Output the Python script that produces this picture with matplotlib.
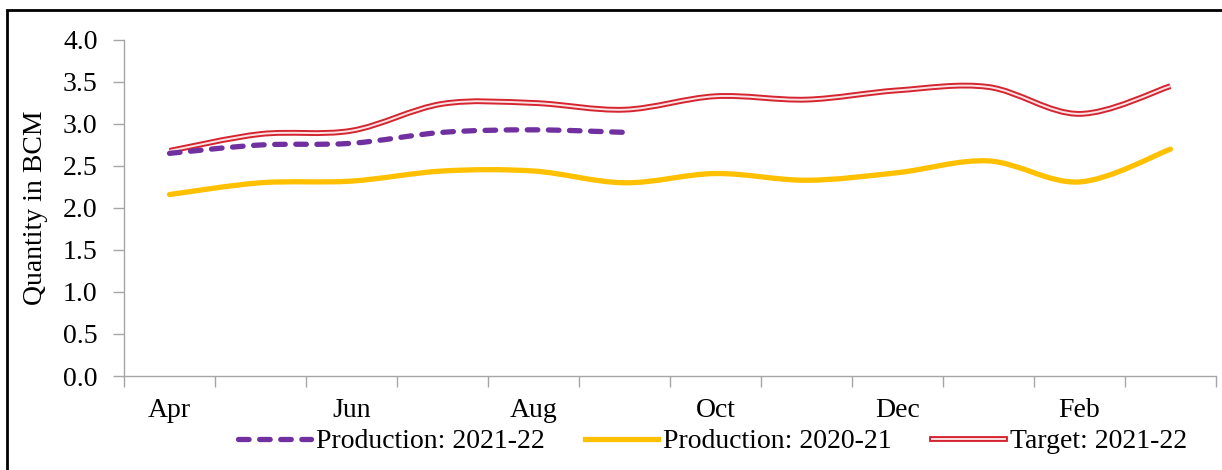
import numpy as np
import matplotlib.pyplot as plt
from matplotlib.path import Path
from matplotlib.patches import PathPatch, Rectangle
from matplotlib.lines import Line2D
import matplotlib.patheffects as pe

plt.rcParams['font.family'] = ['Liberation Serif', 'DejaVu Serif']

months = ['Apr', 'May', 'Jun', 'Jul', 'Aug', 'Sep', 'Oct', 'Nov', 'Dec', 'Jan', 'Feb', 'Mar']
prod_2122 = [2.65, 2.75, 2.77, 2.90, 2.93, 2.90]
prod_2021 = [2.16, 2.30, 2.32, 2.44, 2.44, 2.30, 2.41, 2.33, 2.42, 2.56, 2.31, 2.70]
target_2122 = [2.68, 2.88, 2.92, 3.24, 3.25, 3.17, 3.33, 3.29, 3.40, 3.44, 3.12, 3.45]


def smooth_path(ys):
    # Excel-style smoothed line: Catmull-Rom segments as cubic Beziers
    pts = np.column_stack([np.arange(len(ys)), ys]).astype(float)
    verts = [pts[0]]
    codes = [Path.MOVETO]
    n = len(pts)
    for i in range(n - 1):
        p0 = pts[max(i - 1, 0)]
        p1 = pts[i]
        p2 = pts[i + 1]
        p3 = pts[min(i + 2, n - 1)]
        c1 = p1 + (p2 - p0) / 6
        c2 = p2 - (p3 - p1) / 6
        verts += [c1, c2, p2]
        codes += [Path.CURVE4] * 3
    return Path(verts, codes)


fig = plt.figure(figsize=(12.22, 4.70), dpi=100)
ax = fig.add_axes([0.1015, 0.2, 0.8935, 0.715])

gold = '#FFC000'
purple = '#7030A0'
red = '#D42530'
pink = '#FBE3E4'
dash = (0, (2.0, 2.0))

ax.add_patch(PathPatch(smooth_path(prod_2021), fill=False, edgecolor=gold, lw=3.8, capstyle='round', zorder=2))
ax.add_patch(PathPatch(smooth_path(target_2122), fill=False, edgecolor=red, lw=4.2, zorder=3))
ax.add_patch(PathPatch(smooth_path(target_2122), fill=False, edgecolor=pink, lw=1.4, zorder=3.1))
ax.add_patch(PathPatch(smooth_path(prod_2122), fill=False, edgecolor=purple, lw=3.8,
                       linestyle=dash, capstyle='round', zorder=4))

ax.set_xlim(-0.5, 11.5)
ax.set_ylim(0, 4.0)
yt = np.arange(0, 4.01, 0.5)
ax.set_yticks(yt)
ax.set_yticklabels([f'{v:.1f}' for v in yt])
ax.set_xticks(range(0, 12, 2))
ax.set_xticklabels(months[::2])
ax.set_xticks(np.arange(-0.5, 12, 1), minor=True)
ax.tick_params(axis='x', which='major', length=0, pad=16, labelsize=20)
ax.tick_params(axis='x', which='minor', length=8, color='#a6a6a6', width=1)
ax.tick_params(axis='y', length=8, color='#a6a6a6', width=1, labelsize=20, pad=11)

for s in ['top', 'right']:
    ax.spines[s].set_visible(False)
for s in ['left', 'bottom']:
    ax.spines[s].set_color('#a6a6a6')
    ax.spines[s].set_linewidth(1)

ax.set_ylabel('Quantity in BCM', fontsize=20, labelpad=11)

handles = [
    Line2D([], [], color=purple, lw=3.8, linestyle=dash, dash_capstyle='round'),
    Line2D([], [], color=gold, lw=3.8),
    Line2D([], [], color=pink, lw=1.4,
           path_effects=[pe.Stroke(linewidth=4.2, foreground=red), pe.Normal()]),
]
labels = ['Production: 2021-22', 'Production: 2020-21', 'Target: 2021-22']
fig.legend(handles, labels, loc='lower center', bbox_to_anchor=(0.583, -0.02), ncol=3,
           frameon=False, fontsize=20, handlelength=2.63, handletextpad=0.18, columnspacing=1.45)

# outer border
fig.add_artist(Rectangle((7 / 1222, -0.1), 1.2, 1.1 - 10 / 470,
                         transform=fig.transFigure, fill=False, edgecolor='black', lw=2))

fig.savefig('out.png', dpi=100)
